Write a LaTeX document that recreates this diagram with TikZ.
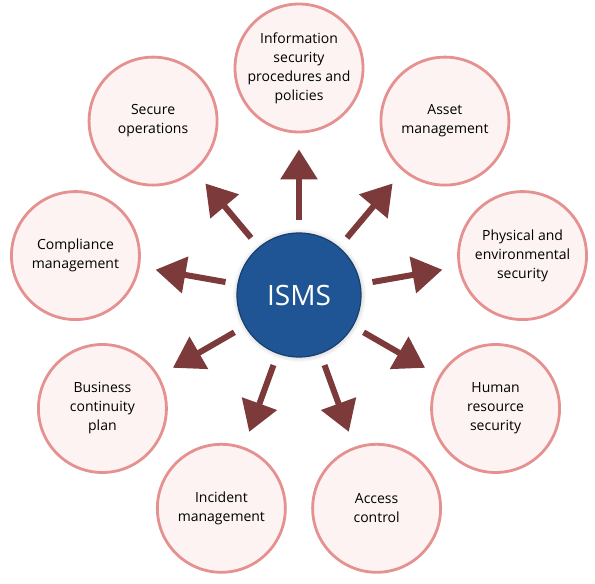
\documentclass[tikz,border=0pt]{standalone}
\usepackage{fontspec}
\setmainfont{Open Sans}
\usetikzlibrary{arrows.meta,shadows}
\definecolor{ringred}{HTML}{E4918F}
\definecolor{ringfill}{HTML}{FDF3F3}
\definecolor{arrowred}{HTML}{7D3A3A}
\definecolor{hubblue}{HTML}{1F5594}
\definecolor{hubedge}{HTML}{173F6E}
\tikzset{
  area/.style={circle, draw=ringred, fill=ringfill, line width=2.8pt,
    minimum size=128pt, inner sep=0pt, align=center,
    font=\fontsize{14}{19}\selectfont},
  hub/.style={circle, draw=hubedge, fill=hubblue, line width=1.2pt,
    minimum size=124pt, text=white, font=\fontsize{28}{30}\selectfont,
    circular drop shadow={shadow xshift=0pt, shadow yshift=0pt,
      shadow scale=1.08, opacity=0.45}},
  spoke/.style={draw=arrowred, line width=6pt,
    -{Triangle[length=30pt,width=36pt]}, shorten <=12pt, shorten >=16pt}
}
\begin{document}
\begin{tikzpicture}[x=1pt,y=1pt]
\useasboundingbox (-299,-289) rectangle (296,295);
% the hub in the middle
\node[hub] (isms) at (0,0) {ISMS};
% the nine areas round it, 40 degrees apart
\foreach \ang/\txt [count=\i] in {
  90/{Information\\security\\procedures and\\policies},
  50/{Asset\\management},
  10/{Physical and\\environmental\\security},
  -30/{Human\\resource\\security},
  -70/{Access\\control},
  -110/{Incident\\management},
  -150/{Business\\continuity\\plan},
  170/{Compliance\\management},
  130/{Secure\\operations}}
{
  \node[area] (area\i) at (\ang:227) {\txt};
  % arrow from the hub out to the area
  \draw[spoke] (isms) -- (area\i);
}
\end{tikzpicture}
\end{document}
